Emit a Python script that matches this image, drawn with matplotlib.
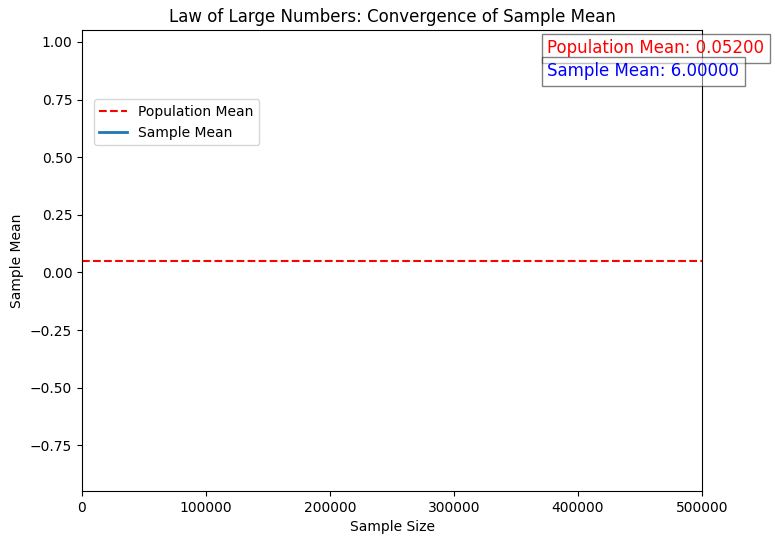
import matplotlib
matplotlib.use("Agg")
import matplotlib.pyplot as plt

population_mean = 0.052
sample_mean_text = 6.0
sample_sizes = []
sample_means = []
x_max = 500000

fig = plt.figure(figsize=(7.75, 5.45), dpi=100)
ax = fig.add_axes([82/775, 54/545, 620/775, 461/545])

ax.axhline(population_mean, color='red', linestyle='--', label='Population Mean')
ax.plot(sample_sizes, sample_means, lw=2, label='Sample Mean')
ax.set_xlim(0, x_max)
ax.set_ylim(population_mean - 1, population_mean + 1)
ax.set_title('Law of Large Numbers: Convergence of Sample Mean')
ax.set_xlabel('Sample Size')
ax.set_ylabel('Sample Mean')
ax.legend(loc='upper left', bbox_to_anchor=(0.008, 0.865))

ax.text(0.75, 0.95, f'Population Mean: {population_mean:.5f}', transform=ax.transAxes,
        fontsize=12, color='red', bbox=dict(facecolor='white', alpha=0.5))
ax.text(0.75, 0.90, f'Sample Mean: {sample_mean_text:.5f}', transform=ax.transAxes,
        fontsize=12, color='blue', bbox=dict(facecolor='white', alpha=0.5))

fig.savefig('out.png', dpi=100)
